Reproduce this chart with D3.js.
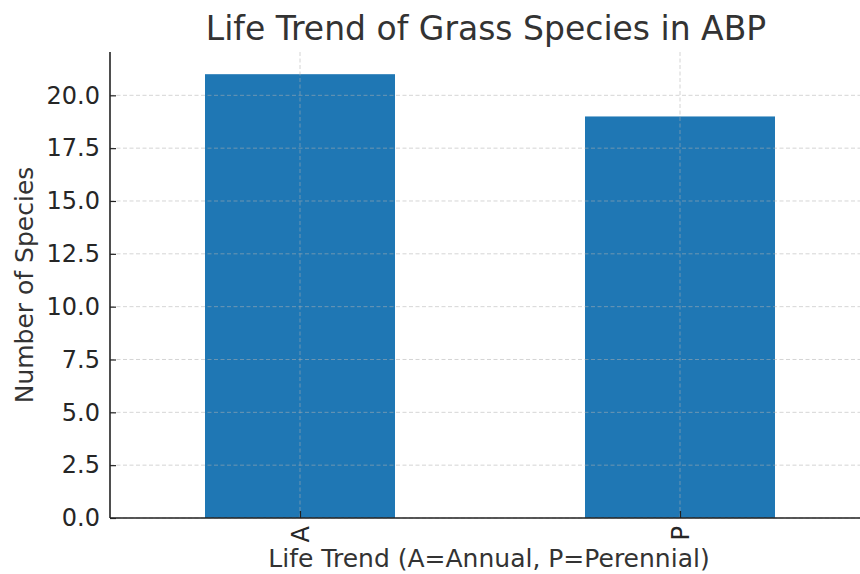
<!DOCTYPE html>
<html>
  <head>
    <title>Life Trend of Grass Species in ABP</title>
    <script src="https://d3js.org/d3.v7.min.js"></script>
    <style>
      body { margin: 0; background: #fff; }
      svg { display: block; font-family: "DejaVu Sans", sans-serif; }
    </style>
  </head>
  <body>
    <script>
      const categories = ['A', 'P'];
      const counts = [21, 19];
      const yTicks = [0, 2.5, 5, 7.5, 10, 12.5, 15, 17.5, 20];

      const w = 860;
      const h = 574;
      const plotLeft = 110, plotBottom = 518, plotTop = 52;

      const xScale = d3.scaleLinear()
                       .domain([-0.5, categories.length - 0.5])
                       .range([plotLeft, plotLeft + 760]);
      const yScale = d3.scaleLinear()
                       .domain([0, d3.max(counts) * 1.05])
                       .range([plotBottom, plotTop]);
      const barWidth = xScale(0.25) - xScale(-0.25);

      const svg = d3.select('body')
                    .append('svg')
                    .attr('width', w)
                    .attr('height', h);

      // bars
      svg.selectAll('rect.bar')
         .data(counts)
         .enter()
         .append('rect')
         .attr('class', 'bar')
         .attr('x', (d, i) => xScale(i) - barWidth / 2)
         .attr('y', d => yScale(d))
         .attr('width', barWidth)
         .attr('height', d => plotBottom - yScale(d))
         .attr('fill', '#1f77b4');

      // grid, drawn over the bars like the original
      const grid = svg.append('g')
                      .attr('stroke', '#b0b0b0')
                      .attr('stroke-opacity', 0.6)
                      .attr('stroke-dasharray', '4,2.5')
                      .attr('stroke-width', 0.9);
      grid.selectAll('line.h')
          .data(yTicks)
          .enter()
          .append('line')
          .attr('x1', plotLeft).attr('x2', w)
          .attr('y1', d => yScale(d)).attr('y2', d => yScale(d));
      grid.selectAll('line.v')
          .data(categories)
          .enter()
          .append('line')
          .attr('x1', (d, i) => xScale(i)).attr('x2', (d, i) => xScale(i))
          .attr('y1', plotTop).attr('y2', plotBottom);

      // axes
      const yAxis = d3.axisLeft(yScale)
                      .tickValues(yTicks)
                      .tickFormat(d3.format('.1f'))
                      .tickSizeInner(-6)
                      .tickSizeOuter(0)
                      .tickPadding(10);
      const yg = svg.append('g')
                    .attr('transform', `translate(${plotLeft},0)`)
                    .call(yAxis);
      yg.select('.domain').remove();
      yg.selectAll('.tick line').attr('stroke', '#222').attr('stroke-width', 1.2);
      yg.selectAll('.tick text')
        .attr('font-size', 24)
        .attr('fill', '#262626')
        .attr('font-family', '"DejaVu Sans", sans-serif');

      const xAxis = d3.axisBottom(xScale)
                      .tickValues(d3.range(categories.length))
                      .tickFormat(i => categories[i])
                      .tickSizeInner(-7)
                      .tickSizeOuter(0);
      const xg = svg.append('g')
                    .attr('transform', `translate(0,${plotBottom})`)
                    .call(xAxis);
      xg.select('.domain').remove();
      xg.selectAll('.tick line').attr('stroke', '#222').attr('stroke-width', 1.2);
      xg.selectAll('.tick text')
        .attr('font-size', 24)
        .attr('fill', '#262626')
        .attr('font-family', '"DejaVu Sans", sans-serif')
        .attr('text-anchor', 'end')
        .attr('dy', '0.35em')
        .attr('y', 0)
        .attr('transform', 'translate(0,8) rotate(-90)');

      // spines
      svg.append('line')
         .attr('x1', plotLeft).attr('x2', plotLeft)
         .attr('y1', plotTop).attr('y2', plotBottom)
         .attr('stroke', '#222').attr('stroke-width', 1.6);
      svg.append('line')
         .attr('x1', plotLeft).attr('x2', w)
         .attr('y1', plotBottom).attr('y2', plotBottom)
         .attr('stroke', '#222').attr('stroke-width', 1.6);

      // labels
      const mid = (plotLeft + plotLeft + 760) / 2;
      svg.append('text')
         .attr('x', mid - 4).attr('y', 40)
         .attr('text-anchor', 'middle')
         .attr('font-size', 33)
         .attr('fill', '#333')
         .text('Life Trend of Grass Species in ABP');
      svg.append('text')
         .attr('x', mid - 1).attr('y', 567)
         .attr('text-anchor', 'middle')
         .attr('font-size', 25)
         .attr('fill', '#333')
         .text('Life Trend (A=Annual, P=Perennial)');
      svg.append('text')
         .attr('transform', `translate(33,${(plotTop + plotBottom) / 2}) rotate(-90)`)
         .attr('text-anchor', 'middle')
         .attr('font-size', 25)
         .attr('fill', '#333')
         .text('Number of Species');
    </script>
  </body>
</html>
